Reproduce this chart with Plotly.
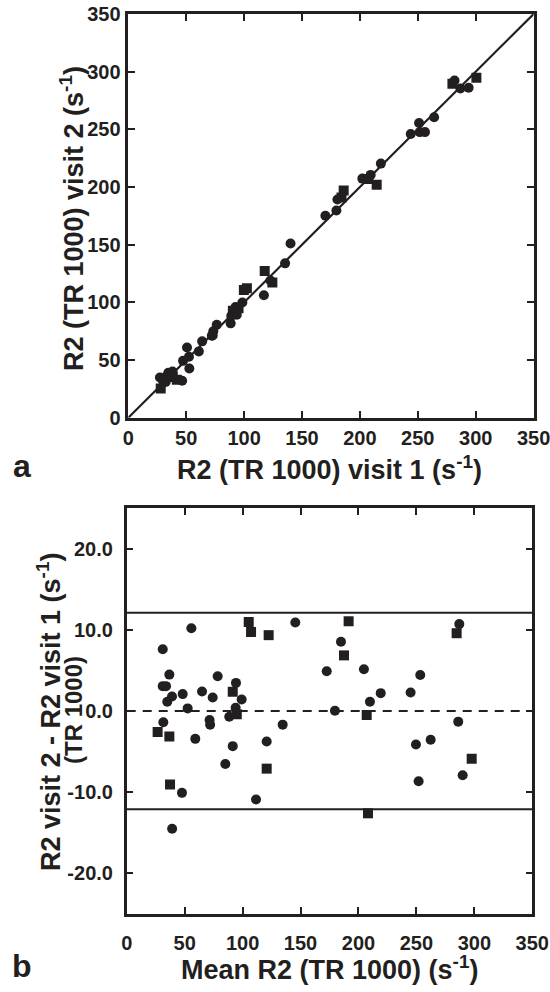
import plotly.graph_objects as go

# ---------------- data ----------------
# Panel a: R2 visit 1 vs visit 2 (TR 1000)
a_circle_visit1 = [50.7, 27.3, 34.6, 29.6, 32.4, 38.2, 34.4, 47.3, 63.8, 76.4, 73.4, 92.6,
                   98.5, 52.4, 93.8, 88.9, 32.3, 72.1, 72.9, 60.9, 93.7, 122.7, 88.4, 52.7,
                   117.1, 46.5, 140.1, 180.6, 170.2, 202.1, 218.1, 209.3, 179.7, 135.4,
                   281.7, 251.1, 243.9, 286.8, 264.1, 251.7, 293.9, 256.2]
a_circle_visit2 = [60.9, 34.9, 39.0, 32.6, 35.4, 40.0, 35.6, 49.3, 66.2, 80.6, 75.0, 96.0,
                   99.9, 52.8, 94.2, 88.2, 30.9, 71.0, 71.2, 57.5, 89.3, 118.9, 81.8, 42.7,
                   106.2, 32.0, 151.0, 189.2, 175.1, 207.3, 220.3, 210.5, 179.7, 133.8,
                   292.4, 255.5, 246.0, 285.4, 260.5, 247.6, 286.0, 247.6]
a_square_visit1 = [99.8, 102.4, 117.8, 90.3, 95.2, 28.0, 38.4, 124.4, 41.9, 186.0, 184.1,
                   207.3, 214.5, 279.9, 300.6]
a_square_visit2 = [110.8, 112.2, 127.2, 92.7, 94.8, 25.4, 35.2, 117.3, 32.9, 197.0, 190.9,
                   206.9, 201.9, 289.5, 294.8]
identity_line = [0, 350]

# Panel b: Bland-Altman (mean vs difference)
b_circle_mean = [55.8, 31.1, 36.8, 31.1, 33.9, 39.1, 35.0, 48.3, 65.0, 78.5, 74.2, 94.3,
                 99.2, 52.6, 94.0, 88.5, 31.6, 71.5, 72.0, 59.2, 91.5, 120.8, 85.1, 47.7,
                 111.6, 39.2, 145.5, 184.9, 172.6, 204.7, 219.2, 209.9, 179.7, 134.6,
                 287.0, 253.3, 245.0, 286.1, 262.3, 249.6, 289.9, 251.9]
b_circle_diff = [10.2, 7.6, 4.48, 3.06, 3.06, 1.79, 1.14, 2.08, 2.4, 4.28, 1.66, 3.46,
                 1.42, 0.32, 0.4, -0.7, -1.39, -1.1, -1.7, -3.43, -4.33, -3.76, -6.53, -10.08,
                 -10.9, -14.5, 10.9, 8.52, 4.9, 5.14, 2.2, 1.14, 0.04, -1.68,
                 10.7, 4.44, 2.28, -1.31, -3.55, -4.12, -7.92, -8.65]
b_square_mean = [105.3, 107.3, 122.5, 91.5, 95.0, 26.7, 36.8, 120.8, 37.4, 191.5, 187.5,
                 207.1, 208.2, 284.7, 297.7]
b_square_diff = [10.97, 9.74, 9.34, 2.36, -0.4, -2.6, -3.15, -7.1, -9.06, 11.05, 6.85,
                 -0.49, -12.6, 9.58, -5.88]
mean_diff = 0.0
upper_limit = 12.1
lower_limit = -12.1
b_line_x = [0, 350]

x_ticks = [0, 50, 100, 150, 200, 250, 300, 350]
a_y_ticks = [0, 50, 100, 150, 200, 250, 300, 350]
b_y_ticks = [-20, -10, 0, 10, 20]
b_y_ticktext = ["-20.0", "-10.0", "0.0", "10.0", "20.0"]

# ---------------- style ----------------
BLACK = "#231f20"
FONT = "Liberation Sans, Arial, Helvetica, sans-serif"
W, H = 550, 992

fig = go.Figure()

# panel a
fig.add_trace(go.Scatter(x=identity_line, y=identity_line, mode="lines",
                         line=dict(color=BLACK, width=2.2), xaxis="x", yaxis="y",
                         hoverinfo="skip"))
fig.add_trace(go.Scatter(x=a_circle_visit1, y=a_circle_visit2, mode="markers",
                         marker=dict(symbol="circle", size=10, color=BLACK, line=dict(width=0)),
                         xaxis="x", yaxis="y"))
fig.add_trace(go.Scatter(x=a_square_visit1, y=a_square_visit2, mode="markers",
                         marker=dict(symbol="square", size=10, color=BLACK, line=dict(width=0)),
                         xaxis="x", yaxis="y"))

# panel b
fig.add_trace(go.Scatter(x=b_line_x, y=[mean_diff, mean_diff], mode="lines",
                         line=dict(color=BLACK, width=2.2, dash="9px,7px"),
                         xaxis="x2", yaxis="y2", hoverinfo="skip"))
fig.add_trace(go.Scatter(x=b_line_x, y=[upper_limit, upper_limit], mode="lines",
                         line=dict(color=BLACK, width=2), xaxis="x2", yaxis="y2",
                         hoverinfo="skip"))
fig.add_trace(go.Scatter(x=b_line_x, y=[lower_limit, lower_limit], mode="lines",
                         line=dict(color=BLACK, width=2), xaxis="x2", yaxis="y2",
                         hoverinfo="skip"))
fig.add_trace(go.Scatter(x=b_circle_mean, y=b_circle_diff, mode="markers",
                         marker=dict(symbol="circle", size=10, color=BLACK, line=dict(width=0)),
                         xaxis="x2", yaxis="y2"))
fig.add_trace(go.Scatter(x=b_square_mean, y=b_square_diff, mode="markers",
                         marker=dict(symbol="square", size=10, color=BLACK, line=dict(width=0)),
                         xaxis="x2", yaxis="y2"))

tickfont = dict(family=FONT, size=20, color=BLACK, weight="bold")
axis_common = dict(showgrid=False, zeroline=False, showline=True, linecolor=BLACK,
                   linewidth=2.5, mirror="ticks", ticks="inside", ticklen=7,
                   tickwidth=2, tickcolor=BLACK, tickfont=tickfont, automargin=False,
                   ticklabeloverflow="allow")

fig.update_layout(
    width=W, height=H,
    margin=dict(l=0, r=0, t=0, b=0),
    paper_bgcolor="white", plot_bgcolor="white",
    showlegend=False,
    xaxis=dict(domain=[128.3 / W, 533.6 / W], range=[0, 350], tickvals=x_ticks,
               anchor="y", ticklabelstandoff=1, **axis_common),
    yaxis=dict(domain=[1 - 417.7 / H, 1 - 14 / H], range=[0, 350], tickvals=a_y_ticks,
               anchor="x", ticklabelstandoff=1, **axis_common),
    xaxis2=dict(domain=[126.7 / W, 532.3 / W], range=[0, 350], tickvals=x_ticks,
                anchor="y2", ticklabelstandoff=9, **axis_common),
    yaxis2=dict(domain=[1 - 914 / H, 1 - 508 / H], range=[-25, 25], tickvals=b_y_ticks,
                ticktext=b_y_ticktext, anchor="x2", ticklabelstandoff=7, **axis_common),
)

titlefont = dict(family=FONT, size=27, color=BLACK, weight="bold")
subfont = dict(family=FONT, size=24, color=BLACK, weight="bold")
labelfont = dict(family=FONT, size=32, color=BLACK, weight="bold")


def ann(text, x, y, font, angle=0):
    fig.add_annotation(text=text, x=x / W, y=1 - y / H, xref="paper", yref="paper",
                       showarrow=False, font=font, textangle=angle,
                       xanchor="center", yanchor="middle")


ann("R2 (TR 1000) visit 1 (s<sup>-1</sup>)", 329, 468, titlefont)
ann("R2 (TR 1000) visit 2 (s<sup>-1</sup>)", 72, 219, titlefont, -90)
ann("a", 22, 466, labelfont)
ann("Mean R2 (TR 1000) (s<sup>-1</sup>)", 329, 968, titlefont)
ann("R2 visit 2 - R2 visit 1 (s<sup>-1</sup>)", 49, 712, titlefont, -90)
ann("(TR 1000)", 73, 710, subfont, -90)
ann("b", 22, 966, labelfont)

fig.write_html(
    "out.html",
    config={"displayModeBar": False},
    post_script="document.body.style.margin='0';document.body.style.padding='0';"
                "document.body.style.overflow='hidden';",
)
